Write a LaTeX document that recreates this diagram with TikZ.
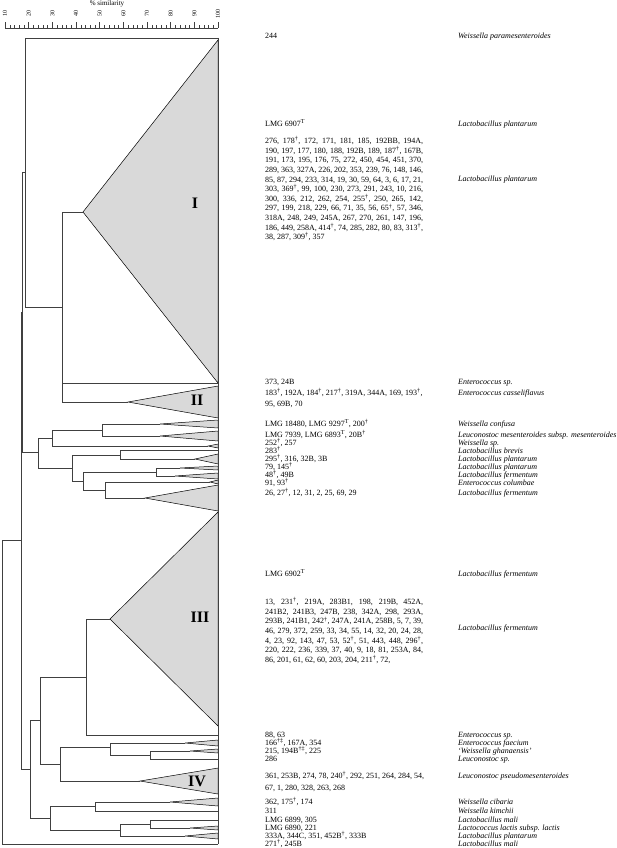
\documentclass[tikz,border=0pt]{standalone}
\usepackage{fontspec}
\setmainfont{Liberation Serif}
\newcommand{\dg}{\textsuperscript{†}}
\newcommand{\ddg}{\textsuperscript{†‡}}
\newcommand{\typ}{\textsuperscript{T}}

\begin{document}
\begin{tikzpicture}[x=1pt, y=-1pt,
  branch/.style={draw=black!75, line width=0.6pt},
  clade/.style={draw=black, fill=black!15, line width=0.5pt},
  strain/.style={anchor=west, inner sep=0pt, text height=5.5pt, text depth=1.5pt, font=\fontsize{8}{9.6}\selectfont},
  species/.style={strain, font=\fontsize{8}{9.6}\selectfont\itshape},
  block/.style={anchor=base west, inner sep=0pt, font=\fontsize{8}{9.6}\selectfont},
  cluster/.style={inner sep=0pt, font=\fontsize{16}{16}\selectfont\bfseries},
  scalelabel/.style={inner sep=0pt, rotate=90, font=\fontsize{6}{6}\selectfont}]

  \useasboundingbox (0,0) rectangle (616,848);

  % Scale
  \node[inner sep=0pt, font=\fontsize{7}{7}\selectfont] (title) at (107,4) {\% similarity};
  \coordinate (s0) at (5,28);
  \coordinate (s1) at (218,28);
  \draw[branch, line width=0.4pt] (s0) -- (s1);
  \foreach \s in {10,12,...,100}
    \draw[branch, line width=0.4pt] ({5+(\s-10)*2.3667},28) -- ++(0,-3);
  \foreach \s in {10,20,...,100} {
    \draw[branch, line width=0.4pt] ({5+(\s-10)*2.3667},28) -- ++(0,-6);
    \node[scalelabel] (lab\s) at ({5+(\s-10)*2.3667},14) {\s};
  }

  % Tree nodes
  \coordinate (root) at (2,692);
  \coordinate (nJ) at (21,540.5);
  \coordinate (nA) at (22,312);
  \coordinate (n25) at (25,172);
  \coordinate (n62) at (62,307);
  \coordinate (nB) at (38,452);
  \coordinate (nC) at (52,438.5);
  \coordinate (nD) at (102,430);
  \coordinate (nE) at (72,468);
  \coordinate (nF) at (120,455);
  \coordinate (nG) at (83,481);
  \coordinate (nH) at (156,472);
  \coordinate (nI) at (105,490);
  \coordinate (nM) at (30,769);
  \coordinate (nK) at (40,720);
  \coordinate (nL) at (86,677);
  \coordinate (nP) at (60,764);
  \coordinate (nR) at (110,747);
  \coordinate (nS) at (150,755);
  \coordinate (nQ) at (50,818);
  \coordinate (nT) at (95,806.5);
  \coordinate (nU) at (120,830);
  \coordinate (nV) at (150,824);

  % Leaves and clade apices
  \coordinate (l244) at (218,38);
  \coordinate (aI) at (83,212);
  \coordinate (l373) at (218,383);
  \coordinate (aII) at (128,402);
  \coordinate (a18480) at (160,424);
  \coordinate (a7939) at (160,436);
  \coordinate (a252) at (208,446);
  \coordinate (l283) at (218,450);
  \coordinate (a295) at (195,459);
  \coordinate (a79) at (180,468);
  \coordinate (a48) at (175,476);
  \coordinate (a91) at (210,482);
  \coordinate (a26) at (145,498);
  \coordinate (aIII) at (110,619);
  \coordinate (l88) at (218,735);
  \coordinate (a166) at (185,743);
  \coordinate (a215) at (190,751);
  \coordinate (l286) at (218,759);
  \coordinate (aIV) at (140,781);
  \coordinate (a362) at (170,802);
  \coordinate (l311) at (218,811);
  \coordinate (l6899) at (218,820);
  \coordinate (a6890) at (190,828);
  \coordinate (a333) at (185,836);
  \coordinate (l271) at (218,844);

  % Clades
  \draw[clade] (aI) -- (218,40) -- (218,383) -- cycle;
  \draw[clade] (aII) -- (218,386) -- (218,418) -- cycle;
  \draw[clade] (a18480) -- (218,420) -- (218,428) -- cycle;
  \draw[clade] (a7939) -- (218,431) -- (218,441) -- cycle;
  \draw[clade] (a252) -- (218,444) -- (218,448) -- cycle;
  \draw[clade] (a295) -- (218,454) -- (218,464) -- cycle;
  \draw[clade] (a79) -- (218,466) -- (218,470) -- cycle;
  \draw[clade] (a48) -- (218,473) -- (218,479) -- cycle;
  \draw[clade] (a91) -- (218,480) -- (218,484) -- cycle;
  \draw[clade] (a26) -- (218,485) -- (218,511) -- cycle;
  \draw[clade] (aIII) -- (218,512) -- (218,726) -- cycle;
  \draw[clade] (a166) -- (218,740) -- (218,746) -- cycle;
  \draw[clade] (a215) -- (218,749) -- (218,753) -- cycle;
  \draw[clade] (aIV) -- (218,768) -- (218,794) -- cycle;
  \draw[clade] (a362) -- (218,798) -- (218,806) -- cycle;
  \draw[clade] (a6890) -- (218,826) -- (218,830) -- cycle;
  \draw[clade] (a333) -- (218,833) -- (218,839) -- cycle;

  % Branches
  \draw[branch] (root) |- (nJ);
  \draw[branch] (root) |- (l271);
  \draw[branch] (nJ) |- (nA);
  \draw[branch] (nJ) |- (nM);
  \draw[branch] (nA) |- (n25);
  \draw[branch] (nA) |- (nB);
  \draw[branch] (n25) |- (l244);
  \draw[branch] (n25) |- (n62);
  \draw[branch] (n62) |- (aI);
  \draw[branch] (n62) |- (l373);
  \draw[branch] (n62) |- (aII);
  \draw[branch] (nB) |- (nC);
  \draw[branch] (nB) |- (nE);
  \draw[branch] (nC) |- (nD);
  \draw[branch] (nC) |- (a252);
  \draw[branch] (nD) |- (a18480);
  \draw[branch] (nD) |- (a7939);
  \draw[branch] (nE) |- (nF);
  \draw[branch] (nE) |- (nG);
  \draw[branch] (nF) |- (l283);
  \draw[branch] (nF) |- (a295);
  \draw[branch] (nG) |- (nH);
  \draw[branch] (nG) |- (nI);
  \draw[branch] (nH) |- (a79);
  \draw[branch] (nH) |- (a48);
  \draw[branch] (nI) |- (a91);
  \draw[branch] (nI) |- (a26);
  \draw[branch] (nM) |- (nK);
  \draw[branch] (nM) |- (nQ);
  \draw[branch] (nK) |- (nL);
  \draw[branch] (nK) |- (nP);
  \draw[branch] (nL) |- (aIII);
  \draw[branch] (nL) |- (l88);
  \draw[branch] (nP) |- (nR);
  \draw[branch] (nP) |- (aIV);
  \draw[branch] (nR) |- (a166);
  \draw[branch] (nR) |- (nS);
  \draw[branch] (nS) |- (a215);
  \draw[branch] (nS) |- (l286);
  \draw[branch] (nQ) |- (nT);
  \draw[branch] (nQ) |- (nU);
  \draw[branch] (nT) |- (a362);
  \draw[branch] (nT) |- (l311);
  \draw[branch] (nU) |- (nV);
  \draw[branch] (nU) |- (a333);
  \draw[branch] (nV) |- (l6899);
  \draw[branch] (nV) |- (a6890);
  \draw[branch] (l244) -- (l271);

  % Cluster numerals
  \node[cluster] (cI) at (195,203) {I};
  \node[cluster] (cII) at (197,400) {II};
  \node[cluster] (cIII) at (200,617) {III};
  \node[cluster] (cIV) at (197,781) {IV};

  % Strains
  \node[strain] (t244) at (265,37) {244};
  \node[strain] (t6907) at (265,124) {LMG 6907\typ};
  \node[block] (tI) at (265,143.7) {\parbox[t]{158pt}{%
    \makebox[158pt][s]{276, 178\dg, 172, 171, 181, 185, 192BB, 194A,}\\
    \makebox[158pt][s]{190, 197, 177, 180, 188, 192B, 189, 187\dg, 167B,}\\
    \makebox[158pt][s]{191, 173, 195, 176, 75, 272, 450, 454, 451, 370,}\\
    \makebox[158pt][s]{289, 363, 327A, 226, 202, 353, 239, 76, 148, 146,}\\
    \makebox[158pt][s]{85, 87, 294, 233, 314, 19, 30, 59, 64, 3, 6, 17, 21,}\\
    \makebox[158pt][s]{303, 369\dg, 99, 100, 230, 273, 291, 243, 10, 216,}\\
    \makebox[158pt][s]{300, 336, 212, 262, 254, 255\dg, 250, 265, 142,}\\
    \makebox[158pt][s]{297, 199, 218, 229, 66, 71, 35, 56, 65\dg, 57, 346,}\\
    \makebox[158pt][s]{318A, 248, 249, 245A, 267, 270, 261, 147, 196,}\\
    \makebox[158pt][s]{186, 449, 258A, 414\dg, 74, 285, 282, 80, 83, 313\dg,}\\
    38, 287, 309\dg, 357}};
  \node[strain] (t373) at (265,382) {373, 24B};
  \node[strain] (t183) at (265,393) {183\dg, 192A, 184\dg, 217\dg, 319A, 344A, 169, 193\dg,};
  \node[strain] (t95) at (265,404) {95, 69B, 70};
  \node[strain] (t18480) at (265,424) {LMG 18480, LMG 9297\typ, 200\dg};
  \node[strain] (t7939) at (265,435) {LMG 7939, LMG 6893\typ, 20B\dg};
  \node[strain] (t252) at (265,443) {252\dg, 257};
  \node[strain] (t283) at (265,451) {283\dg};
  \node[strain] (t295) at (265,459) {295\dg, 316, 32B, 3B};
  \node[strain] (t79) at (265,467) {79, 145\dg};
  \node[strain] (t48) at (265,475) {48\dg, 49B};
  \node[strain] (t91) at (265,483) {91, 93\dg};
  \node[strain] (t26) at (265,493) {26, 27\dg, 12, 31, 2, 25, 69, 29};
  \node[strain] (t6902) at (265,574) {LMG 6902\typ};
  \node[block] (tIII) at (265,604.7) {\parbox[t]{158pt}{%
    \makebox[158pt][s]{13, 231\dg, 219A, 283B1, 198, 219B, 452A,}\\
    \makebox[158pt][s]{241B2, 241B3, 247B, 238, 342A, 298, 293A,}\\
    \makebox[158pt][s]{293B, 241B1, 242\dg, 247A, 241A, 258B, 5, 7, 39,}\\
    \makebox[158pt][s]{46, 279, 372, 259, 33, 34, 55, 14, 32, 20, 24, 28,}\\
    \makebox[158pt][s]{4, 23, 92, 143, 47, 53, 52\dg, 51, 443, 448, 296\dg,}\\
    \makebox[158pt][s]{220, 222, 236, 339, 37, 40, 9, 18, 81, 253A, 84,}\\
    86, 201, 61, 62, 60, 203, 204, 211\dg, 72,}};
  \node[strain] (t88) at (265,735) {88, 63};
  \node[strain] (t166) at (265,743) {166\ddg, 167A, 354};
  \node[strain] (t215) at (265,751) {215, 194B\ddg, 225};
  \node[strain] (t286) at (265,759) {286};
  \node[strain] (t361) at (265,776) {361, 253B, 274, 78, 240\dg, 292, 251, 264, 284, 54,};
  \node[strain] (t67) at (265,788) {67, 1, 280, 328, 263, 268};
  \node[strain] (t362) at (265,802) {362, 175\dg, 174};
  \node[strain] (t311) at (265,811) {311};
  \node[strain] (t6899) at (265,820) {LMG 6899, 305};
  \node[strain] (t6890) at (265,828) {LMG 6890, 221};
  \node[strain] (t333) at (265,836) {333A, 344C, 351, 452B\dg, 333B};
  \node[strain] (t271) at (265,844) {271\dg, 245B};

  % Species
  \node[species] (s244) at (458,37) {Weissella paramesenteroides};
  \node[species] (s6907) at (458,124) {Lactobacillus plantarum};
  \node[species] (sI) at (458,179) {Lactobacillus plantarum};
  \node[species] (s373) at (458,382) {Enterococcus sp.};
  \node[species] (s183) at (458,393) {Enterococcus casseliflavus};
  \node[species] (s18480) at (458,424) {Weissella confusa};
  \node[species] (s7939) at (458,435) {Leuconostoc mesenteroides subsp. mesenteroides};
  \node[species] (s252) at (458,443) {Weissella sp.};
  \node[species] (s283) at (458,451) {Lactobacillus brevis};
  \node[species] (s295) at (458,459) {Lactobacillus plantarum};
  \node[species] (s79) at (458,467) {Lactobacillus plantarum};
  \node[species] (s48) at (458,475) {Lactobacillus fermentum};
  \node[species] (s91) at (458,483) {Enterococcus columbae};
  \node[species] (s26) at (458,493) {Lactobacillus fermentum};
  \node[species] (s6902) at (458,574) {Lactobacillus fermentum};
  \node[species] (sIII) at (458,628) {Lactobacillus fermentum};
  \node[species] (s88) at (458,735) {Enterococcus sp.};
  \node[species] (s166) at (458,743) {Enterococcus faecium};
  \node[species] (s215) at (458,751) {`Weissella ghanaensis'};
  \node[species] (s286) at (458,759) {Leuconostoc sp.};
  \node[species] (s361) at (458,776) {Leuconostoc pseudomesenteroides};
  \node[species] (s362) at (458,802) {Weissella cibaria};
  \node[species] (s311) at (458,811) {Weissella kimchii};
  \node[species] (s6899) at (458,820) {Lactobacillus mali};
  \node[species] (s6890) at (458,828) {Lactococcus lactis subsp. lactis};
  \node[species] (s333) at (458,836) {Lactobacillus plantarum};
  \node[species] (s271) at (458,844) {Lactobacillus mali};
\end{tikzpicture}
\end{document}
